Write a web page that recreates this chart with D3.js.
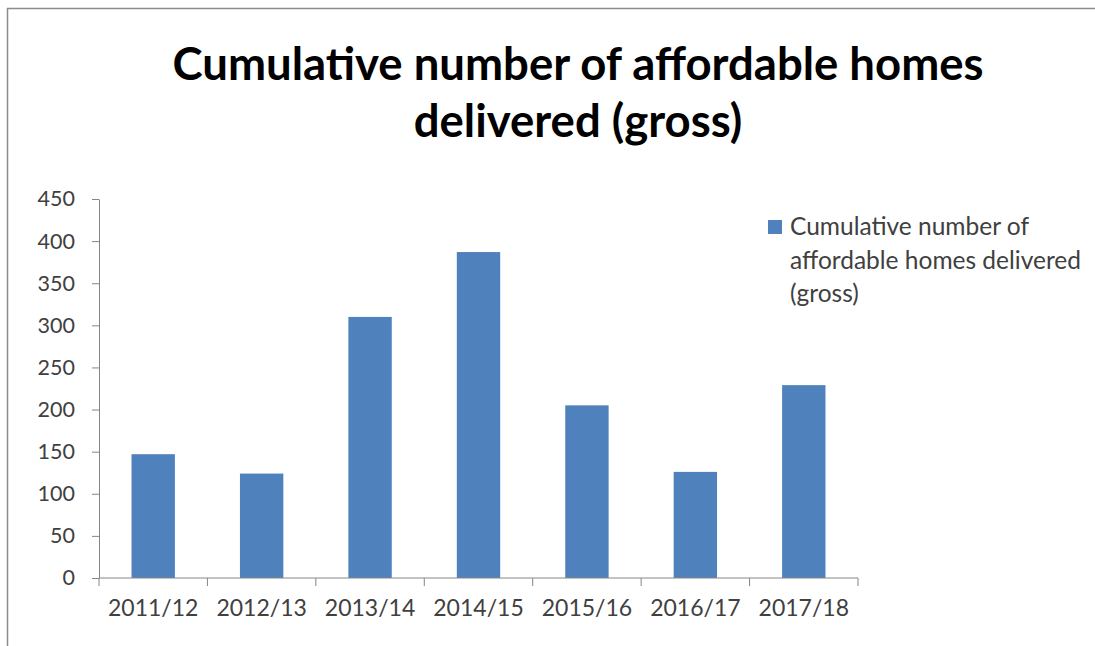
<!DOCTYPE html>
<html>
<head>
<meta charset="utf-8">
<script src="https://cdn.jsdelivr.net/npm/d3@7/dist/d3.min.js"></script>
<style>
  html, body { margin: 0; padding: 0; background: #fff; }
  svg { display: block; }
</style>
</head>
<body>
<svg id="chart" width="1095" height="646"></svg>
<script>
const categories = ["2011/12", "2012/13", "2013/14", "2014/15", "2015/16", "2016/17", "2017/18"];
const values = [147, 124, 310, 387, 205, 126, 229];
const yTicks = [0, 50, 100, 150, 200, 250, 300, 350, 400, 450];
const titleLines = ["Cumulative number of affordable homes", "delivered (gross)"];
const legendLines = ["Cumulative number of", "affordable homes delivered", "(gross)"];

const svg = d3.select("#chart");
const W = 1095, H = 646;
const font = "Lato, 'Open Sans', 'Liberation Sans', sans-serif";
const barColor = "#4f81bd";
const axisColor = "#868686";
const textColor = "#404040";

// frame (top and left edge visible)
svg.append("line").attr("x1", 7).attr("x2", W).attr("y1", 8.5).attr("y2", 8.5)
  .attr("stroke", "#8c8c8c").attr("stroke-width", 1.5);
svg.append("line").attr("x1", 7.5).attr("x2", 7.5).attr("y1", 8).attr("y2", H)
  .attr("stroke", "#8c8c8c").attr("stroke-width", 1.5);

// title
const title = svg.append("text").attr("text-anchor", "middle")
  .attr("font-family", font)
  .attr("font-weight", "bold").attr("font-size", 45.5).attr("fill", "#000");
titleLines.forEach((t, i) => {
  title.append("tspan").attr("x", 578).attr("y", 80 + i * 57).text(t);
});

const x0 = 99, x1 = 858, yBottom = 578, yTop = 199;
const x = d3.scaleBand().domain(categories).range([x0, x1]).paddingInner(0.6).paddingOuter(0.3);
const y = d3.scaleLinear().domain([0, 450]).range([yBottom, yTop]);

// bars
svg.append("g").selectAll("rect").data(values).join("rect")
  .attr("x", (d, i) => x(categories[i]))
  .attr("y", d => y(d))
  .attr("width", x.bandwidth())
  .attr("height", d => y(0) - y(d))
  .attr("fill", barColor);

// y axis
const yAxis = svg.append("g").attr("transform", `translate(${x0},0)`)
  .call(d3.axisLeft(y).tickValues(yTicks).tickSize(7).tickPadding(17).tickSizeOuter(0));
yAxis.select(".domain").attr("stroke", axisColor);
yAxis.selectAll(".tick line").attr("stroke", axisColor);
yAxis.selectAll(".tick text").attr("font-family", font).attr("font-size", 21.5).attr("fill", textColor);

// x axis
const xStep = (x1 - x0) / categories.length;
const xAxis = svg.append("g").attr("transform", `translate(0,${yBottom})`)
  .call(d3.axisBottom(x).tickSize(0).tickPadding(22).tickSizeOuter(0));
xAxis.select(".domain").attr("stroke", axisColor).attr("d", `M${x0},0H${x1}`);
xAxis.selectAll(".tick text").attr("font-family", font).attr("font-size", 23).attr("fill", textColor);
// category boundary tick marks
const boundaries = d3.range(categories.length + 1).map(i => x0 + i * xStep);
xAxis.append("g").selectAll("line").data(boundaries).join("line")
  .attr("x1", d => d).attr("x2", d => d).attr("y1", 0).attr("y2", 8)
  .attr("stroke", axisColor);

// legend
const lg = svg.append("g");
lg.append("rect").attr("x", 768).attr("y", 220).attr("width", 14).attr("height", 14).attr("fill", barColor);
const lt = lg.append("text").attr("font-family", font).attr("font-size", 24.5).attr("fill", textColor);
legendLines.forEach((t, i) => {
  lt.append("tspan").attr("x", 790).attr("y", 235 + i * 33.5).text(t);
});
</script>
</body>
</html>
